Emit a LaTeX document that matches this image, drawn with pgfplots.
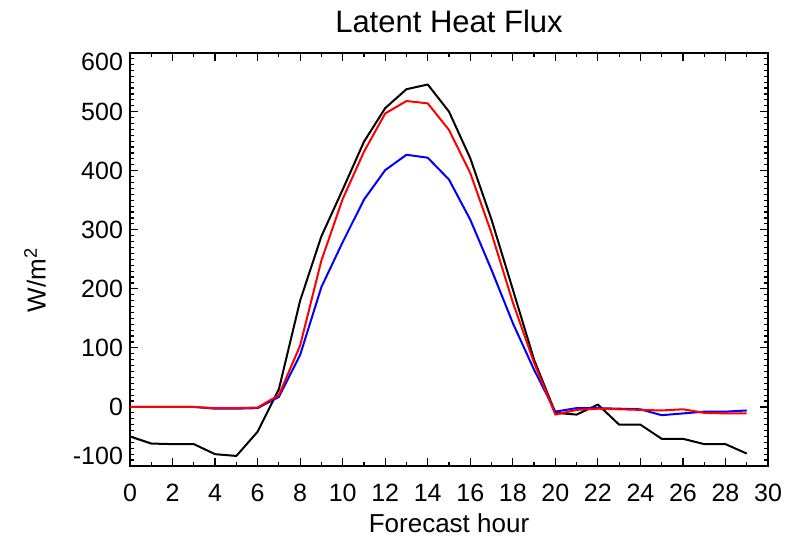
\documentclass[border=0pt]{standalone}
\usepackage{fontspec}
\setmainfont{Liberation Sans}
\usepackage{pgfplots}
\usepackage{pgfplotstable}
\pgfplotsset{compat=1.18}

% hour, black, red, blue (W/m^2)
\pgfplotstableread{
h   blk   red   blu
0   -50    0     0
1   -62    0     0
2   -63    0     0
3   -63    0     0
4   -80   -2    -3
5   -83   -2    -3
6   -42   -1    -2
7    30   20    17
8   180  104    88
9   289  248   203
10  368  352   279
11  449  432   351
12  506  497   401
13  538  518   427
14  546  514   422
15  500  469   385
16  421  396   317
17  317  294   232
18  199  177   142
19   80   75    63
20  -10  -13    -8
21  -13   -5    -2
22    4   -3    -2
23  -30   -4    -3
24  -30   -5    -4
25  -54   -6   -14
26  -54   -4   -11
27  -63  -10    -8
28  -63  -11    -8
29  -79  -11    -6
}\lhf

\begin{document}
\begin{tikzpicture}
\begin{axis}[
  scale only axis,
  width=319pt, height=206.7pt,
  xmin=0, xmax=30, ymin=-100, ymax=600,
  xtick={0,2,...,30}, minor x tick num=1,
  ytick={-100,0,...,600}, minor y tick num=9,
  yticklabels={\smash{\raisebox{5pt}{-100}}\vphantom{0},0,100,200,300,400,500,\smash{\raisebox{-4.5pt}{600}}\vphantom{0}},
  tick align=inside,
  major tick length=4pt, minor tick length=2pt,
  every tick/.style={black, line width=0.6pt},
  axis line style={line width=1pt},
  /pgf/number format/assume math mode=true,
  tick label style={font=\fontsize{12.5}{14}\selectfont},
  xticklabel style={anchor=base, yshift=-18pt},
  title={Latent Heat Flux},
  title style={font=\fontsize{15.5}{18}\selectfont, anchor=base, at={(0.5,1)}, yshift=3.8pt},
  xlabel={Forecast hour},
  xlabel style={font=\fontsize{13}{15}\selectfont, anchor=base, at={(0.5,0)}, yshift=-33.5pt},
  ylabel={W/m\textsuperscript{2}},
  ylabel style={font=\fontsize{13}{15}\selectfont, anchor=center, at={(0,0.45)}, yshift=47.5pt},
  every axis plot/.append style={line width=1pt, no marks, line join=round},
]
\addplot[black] table[x=h, y=blk] {\lhf};
\addplot[blue] table[x=h, y=blu] {\lhf};
\addplot[red] table[x=h, y=red] {\lhf};
\end{axis}
\pgfresetboundingbox
\path ([xshift=-65pt,yshift=-37pt]current axis.south west) rectangle ([xshift=16pt,yshift=26.3pt]current axis.north east);
\end{tikzpicture}
\end{document}
